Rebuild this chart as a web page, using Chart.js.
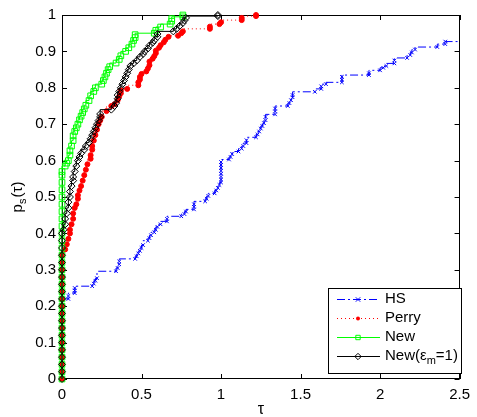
<!DOCTYPE html>
<html>
<head>
<meta charset="utf-8">
<script src="https://cdn.jsdelivr.net/npm/chart.js@4.4.0/dist/chart.umd.min.js"></script>
<style>
  html, body { margin: 0; padding: 0; background: #fff; }
</style>
</head>
<body>
<canvas id="perfChart" width="477" height="417"></canvas>
<script>
// performance profile data
var hsTau = [0,0,0,0,0,0,0,0,0,0,0, 0.04,0.04, 0.08,0.08,0.08, 0.19,0.20,0.21,0.22, 0.34,0.35,0.36,0.36,
  0.46,0.47,0.48,0.49,0.50,0.51, 0.54,0.55,0.56,0.58,0.59,0.60,0.62, 0.66,0.66, 0.75,0.77,0.78,
  0.83,0.83,0.83, 0.90,0.91,0.92, 0.96,0.97,0.98,0.99,1.00,1.00,1.00,1.00,1.00,1.00,1.00,1.00,
  1.05,1.06,1.07, 1.11,1.13,1.14,1.16,1.16, 1.22,1.23,1.24,1.25,1.26,1.27,1.28,1.28,
  1.34,1.34,1.34, 1.42,1.43,1.44,1.45,1.45, 1.59,1.63,1.63, 1.66, 1.76,1.76,1.76, 1.93,1.93,
  2.00,2.02,2.04, 2.09,2.09, 2.17,2.19,2.20,2.22, 2.36, 2.41,2.41, 2.50];
var hsP = [0,0.02,0.04,0.06,0.08,0.10,0.12,0.14,0.16,0.18,0.20, 0.22,0.228, 0.236,0.243,0.25, 0.255,0.262,0.27,0.277, 0.296,0.305,0.315,0.323,
  0.33,0.337,0.345,0.352,0.36,0.368, 0.38,0.387,0.395,0.403,0.41,0.418,0.425, 0.433,0.44, 0.447,0.453,0.46,
  0.466,0.473,0.48, 0.488,0.495,0.503, 0.51,0.518,0.525,0.533,0.54,0.548,0.556,0.564,0.572,0.58,0.588,0.596,
  0.603,0.61,0.618, 0.625,0.633,0.64,0.648,0.656, 0.664,0.672,0.68,0.688,0.695,0.703,0.711,0.72,
  0.727,0.735,0.743, 0.75,0.758,0.766,0.774,0.78, 0.789,0.797,0.804, 0.81, 0.815,0.822,0.83, 0.835,0.84,
  0.848,0.855,0.86, 0.867,0.875, 0.882,0.89,0.897,0.905, 0.912, 0.92,0.927, 0.927];

var perryTau = [0,0,0,0,0,0,0,0,0,0,0,0,0,0,0,0,0,0, 0.02,0.03,0.04,0.05,0.05,0.06,0.07,0.07,0.08,0.09,0.10,0.10,0.11,0.12,
  0.13,0.14,0.15,0.16,0.18,0.18,0.19,0.19,0.20,0.21,0.22,0.23,0.24,0.25,0.28,0.31,0.33,0.35,0.36,0.37,0.37,
  0.41,0.48,0.48,0.49,0.49,0.50,0.53,0.54,0.55,0.55,0.57,0.58,0.59,0.59,0.61,0.62,0.64,0.65,0.67,
  0.73,0.75,0.76,0.93,0.93,0.99,1.00,1.13,1.13,1.22,1.22];
var perryP = [0,0.02,0.04,0.06,0.08,0.10,0.12,0.14,0.16,0.18,0.20,0.22,0.24,0.26,0.28,0.30,0.32,0.34, 0.356,0.37,0.385,0.40,0.41,0.425,0.44,0.455,0.47,0.48,0.495,0.505,0.518,0.53,
  0.545,0.56,0.575,0.59,0.605,0.615,0.63,0.64,0.655,0.67,0.685,0.70,0.71,0.72,0.736,0.75,0.755,0.766,0.777,0.785,0.793,
  0.797,0.807,0.815,0.823,0.83,0.838,0.845,0.853,0.862,0.872,0.88,0.887,0.895,0.902,0.91,0.917,0.925,0.932,0.94,
  0.943,0.95,0.955,0.962,0.968,0.975,0.98,0.986,0.992,0.997,1.0];

var newTau = [0,0,0,0,0,0,0,0,0,0,0,0,0,0,0,0,0,0,0,0,0,0,0,0,0,0,0,0,0,0, 0.02,0.03,0.04,0.05,0.05,0.06,0.07,0.07,0.08,0.09,0.10,0.11,
  0.12,0.13,0.14,0.15,0.17,0.18,0.20,0.21,0.25,0.26,0.27,0.28,0.29,0.30,0.34,0.36,0.37,0.40,0.42,0.44,0.45,
  0.46,0.46,0.58,0.59,0.62,0.68,0.69,0.69,0.76,0.76];
var newP = [0,0.02,0.04,0.06,0.08,0.10,0.12,0.14,0.16,0.18,0.20,0.22,0.24,0.26,0.28,0.30,0.32,0.34,0.36,0.38,0.40,0.42,0.44,0.46,0.48,0.50,0.52,0.54,0.56,0.57,
  0.585,0.593,0.60,0.615,0.627,0.64,0.655,0.668,0.68,0.69,0.70,0.712,
  0.722,0.732,0.742,0.752,0.765,0.778,0.79,0.80,0.81,0.82,0.83,0.84,0.85,0.858,0.868,0.878,0.888,0.90,0.91,0.92,0.93,
  0.938,0.946,0.95,0.958,0.967,0.975,0.983,0.99,0.995,1.0];

var newEmTau = [0,0,0,0,0,0,0,0,0,0,0,0,0,0,0,0,0,0,0,0,0, 0.01,0.02,0.02,0.03,0.04,0.04,0.05,0.05,0.06,0.07,0.07,0.08,0.09,0.10,
  0.11,0.12,0.14,0.15,0.17,0.18,0.19,0.20,0.21,0.22,0.23,0.24,0.24,0.31,0.33,0.34,0.35,0.35,0.36,0.37,0.38,0.39,
  0.40,0.41,0.42,0.43,0.45,0.47,0.49,0.51,0.52,0.54,0.55,0.57,0.58,0.60,0.60,0.70,0.72,0.74,0.76,0.77,0.78,0.98,0.98];
var newEmP = [0,0.02,0.04,0.06,0.08,0.10,0.12,0.14,0.16,0.18,0.20,0.22,0.24,0.26,0.28,0.30,0.32,0.34,0.36,0.38,0.40,
  0.41,0.425,0.44,0.455,0.47,0.486,0.50,0.515,0.53,0.545,0.555,0.57,0.585,0.60,
  0.61,0.62,0.63,0.64,0.65,0.66,0.67,0.68,0.69,0.70,0.71,0.72,0.728,0.74,0.75,0.758,0.77,0.78,0.79,0.80,0.81,0.82,
  0.83,0.84,0.85,0.86,0.867,0.875,0.885,0.893,0.90,0.908,0.916,0.924,0.93,0.94,0.948,0.955,0.962,0.97,0.978,0.985,0.992,0.997,1.0];

var seriesNames = ['HS', 'Perry', 'New', 'New(\u03b5m=1)'];
var xTicks = [0, 0.5, 1, 1.5, 2, 2.5];
var yTicks = [0, 0.1, 0.2, 0.3, 0.4, 0.5, 0.6, 0.7, 0.8, 0.9, 1];

var FONT = "'Liberation Sans', Arial, Helvetica, sans-serif";

function pts(t, p) {
  return t.map(function (v, i) { return { x: v, y: p[i] }; });
}

// matlab prints 1 not 1.0
function tickText(v) {
  return String(Math.round(v * 10) / 10);
}

var styles = [
  { color: '#0000ff', dash: [8, 3, 2, 3], mark: 'crossRot' },
  { color: '#ff0000', dash: [1, 3], mark: 'circle' },
  { color: '#00ff00', dash: [], mark: 'rect' },
  { color: '#000000', dash: [], mark: 'rectRot' }
];

function drawMark(ctx, style, x, y, color, s) {
  ctx.save();
  ctx.strokeStyle = color;
  ctx.fillStyle = color;
  ctx.lineWidth = 1;
  ctx.setLineDash([]);
  ctx.beginPath();
  if (style === 'crossRot') {
    ctx.moveTo(x - s, y - s); ctx.lineTo(x + s, y + s);
    ctx.moveTo(x + s, y - s); ctx.lineTo(x - s, y + s);
    ctx.stroke();
  } else if (style === 'circle') {
    ctx.arc(x, y, s, 0, Math.PI * 2);
    ctx.fill();
  } else if (style === 'rect') {
    ctx.rect(x - s, y - s, 2 * s, 2 * s);
    ctx.stroke();
  } else {
    ctx.moveTo(x, y - s - 1); ctx.lineTo(x + s + 1, y);
    ctx.lineTo(x, y + s + 1); ctx.lineTo(x - s - 1, y);
    ctx.closePath();
    ctx.stroke();
  }
  ctx.restore();
}

// axes box with inward ticks, matlab style
var framePlugin = {
  id: 'frame',
  beforeDatasetsDraw: function (chart) {
    var ctx = chart.ctx, a = chart.chartArea;
    var xs = chart.scales.x, ys = chart.scales.y;
    ctx.save();
    ctx.strokeStyle = '#000';
    ctx.lineWidth = 1;
    ctx.strokeRect(Math.round(a.left) + 0.5, Math.round(a.top) + 0.5,
      Math.round(a.right - a.left) - 1, Math.round(a.bottom - a.top) - 1);
    ctx.beginPath();
    yTicks.forEach(function (v) {
      var y = Math.round(ys.getPixelForValue(v)) + 0.5;
      ctx.moveTo(a.left, y); ctx.lineTo(a.left + 5, y);
      ctx.moveTo(a.right, y); ctx.lineTo(a.right - 5, y);
    });
    xTicks.forEach(function (v) {
      var x = Math.round(xs.getPixelForValue(v)) + 0.5;
      ctx.moveTo(x, a.bottom); ctx.lineTo(x, a.bottom - 5);
      ctx.moveTo(x, a.top); ctx.lineTo(x, a.top + 5);
    });
    ctx.stroke();

    // axis titles
    ctx.fillStyle = '#000';
    ctx.textBaseline = 'alphabetic';
    ctx.textAlign = 'center';
    ctx.font = '16px ' + FONT;
    ctx.fillText('\u03c4', (a.left + a.right) / 2, 414);

    ctx.translate(22, (a.top + a.bottom) / 2);
    ctx.rotate(-Math.PI / 2);
    ctx.textAlign = 'left';
    ctx.font = '15px ' + FONT;
    var w1 = ctx.measureText('p').width;
    var w3 = ctx.measureText('(\u03c4)').width;
    ctx.font = '11px ' + FONT;
    var w2 = ctx.measureText('s').width;
    var x0 = -(w1 + w2 + w3 + 1) / 2;
    ctx.font = '15px ' + FONT;
    ctx.fillText('p', x0, 0);
    ctx.font = '11px ' + FONT;
    ctx.fillText('s', x0 + w1, 4);
    ctx.font = '15px ' + FONT;
    ctx.fillText('(\u03c4)', x0 + w1 + w2 + 1, 0);
    ctx.restore();
  },
  afterDatasetsDraw: function (chart) {
    var ctx = chart.ctx;
    var bx = 328, by = 288, bw = 133, bh = 85;
    ctx.save();
    ctx.fillStyle = '#fff';
    ctx.fillRect(bx, by, bw, bh);
    ctx.strokeStyle = '#000';
    ctx.lineWidth = 1;
    ctx.strokeRect(bx + 0.5, by + 0.5, bw, bh);
    var rows = [299, 318, 337, 356];
    seriesNames.forEach(function (name, i) {
      var st = styles[i], y = rows[i];
      ctx.strokeStyle = st.color;
      ctx.setLineDash(st.dash);
      ctx.beginPath();
      ctx.moveTo(337, y + 0.5); ctx.lineTo(380, y + 0.5);
      ctx.stroke();
      drawMark(ctx, st.mark, 358, y + 0.5, st.color, i === 1 ? 2 : 2.2);
      ctx.fillStyle = '#000';
      ctx.textBaseline = 'middle';
      ctx.textAlign = 'left';
      ctx.font = '15px ' + FONT;
      if (i === 3) {
        var t1 = 'New(\u03b5';
        ctx.fillText(t1, 385, y);
        var w = ctx.measureText(t1).width;
        ctx.font = '11px ' + FONT;
        ctx.fillText('m', 385 + w, y + 5);
        var wm = ctx.measureText('m').width;
        ctx.font = '15px ' + FONT;
        ctx.fillText('=1)', 385 + w + wm, y);
      } else {
        ctx.fillText(name, 385, y);
      }
    });
    ctx.restore();
  }
};

var sets = [[hsTau, hsP], [perryTau, perryP], [newTau, newP], [newEmTau, newEmP]];
var drawOrder = [3, 2, 1, 0];
var markSize = [2.5, 2.5, 4, 3.5];

var datasets = sets.map(function (s, i) {
  var st = styles[i];
  return {
    label: seriesNames[i],
    data: pts(s[0], s[1]),
    stepped: 'after',
    borderColor: st.color,
    borderWidth: 1,
    borderDash: st.dash,
    fill: false,
    pointStyle: st.mark,
    pointRadius: function (c) {
      if (i === 0 && c.dataIndex === hsTau.length - 1) return 0;
      return markSize[i];
    },
    pointBorderColor: st.color,
    pointBackgroundColor: i === 1 ? st.color : 'rgba(0,0,0,0)',
    pointBorderWidth: 1,
    clip: false,
    order: drawOrder[i]
  };
});

var ctx = document.getElementById('perfChart');
var myChart = new Chart(ctx, {
  type: 'line',
  data: { datasets: datasets },
  options: {
    responsive: false,
    animation: false,
    layout: { padding: { top: 11, right: 9, left: 0, bottom: 0 } },
    plugins: { legend: { display: false }, tooltip: { enabled: false } },
    scales: {
      x: {
        type: 'linear', min: 0, max: 2.5,
        afterFit: function (s) { s.height = 38; },
        afterBuildTicks: function (s) { s.ticks = xTicks.map(function (v) { return { value: v }; }); },
        ticks: { color: '#000', font: { family: FONT, size: 15 }, padding: 7, maxRotation: 0, callback: tickText },
        grid: { display: false, drawTicks: false },
        border: { display: false }
      },
      y: {
        type: 'linear', min: 0, max: 1,
        afterFit: function (s) { s.width = 62; },
        afterBuildTicks: function (s) { s.ticks = yTicks.map(function (v) { return { value: v }; }); },
        ticks: { color: '#000', font: { family: FONT, size: 15 }, padding: 6, callback: tickText },
        grid: { display: false, drawTicks: false },
        border: { display: false }
      }
    }
  },
  plugins: [framePlugin]
});
</script>
</body>
</html>
